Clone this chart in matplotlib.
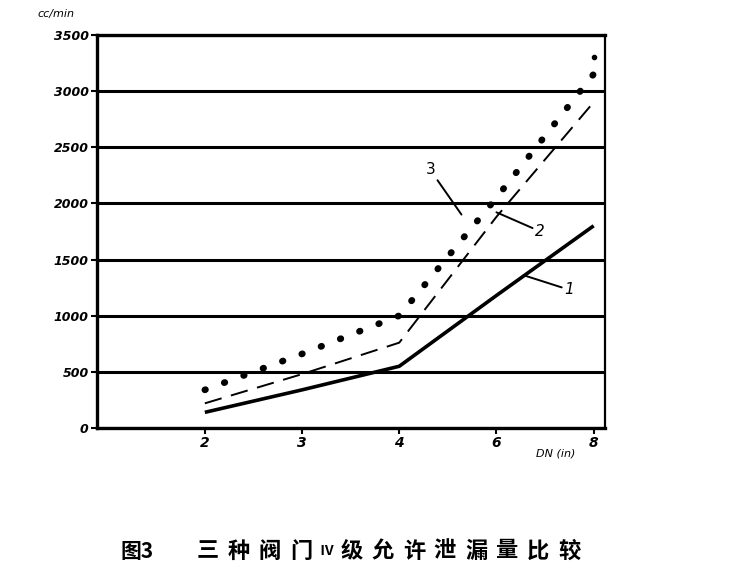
import matplotlib
matplotlib.use("Agg")
import matplotlib.pyplot as plt

plt.rcParams['font.family'] = ['DejaVu Sans']

dn_labels = ["2", "3", "4", "6", "8"]
line1 = [140, 340, 550, 1180, 1800]
line2 = [220, 480, 760, 1880, 2900]
line3 = [340, 660, 1000, 2050, 3150]
y_ticks = [0, 500, 1000, 1500, 2000, 2500, 3000, 3500]
caption_head = "图3"
caption_body = "三种阀门Ⅳ级允许泄漏量比较"

W, H = 740, 570
fig = plt.figure(figsize=(7.4, 5.7), dpi=100)
ax = fig.add_axes([0.131, 0.249, 0.687, 0.690])

x = list(range(len(dn_labels)))
ax.plot(x, line1, color="black", lw=2.6, solid_capstyle="butt")
ax.plot(x, line2, color="black", lw=1.4, dashes=(9, 5))
# dotted series drawn as heavy round dots
ax.plot(x, line3, color="black", lw=4.8, linestyle=(0, (0.1, 3.0)), dash_capstyle="round")
ax.plot([x[-1]], [3300], marker="o", color="black", markersize=3, lw=0)

ax.set_xlim(-1.11, 4.12)
ax.set_ylim(0, 3500)
ax.set_xticks(x)
ax.set_xticklabels(dn_labels, fontstyle="italic", fontsize=10, fontweight="bold")
ax.set_yticks(y_ticks)
ax.set_yticklabels([str(v) for v in y_ticks], fontstyle="italic", fontsize=9,
                   fontweight="bold")
ax.yaxis.grid(True, color="black", lw=2.2)
ax.set_axisbelow(False)
for s in ax.spines.values():
    s.set_linewidth(2.4)
ax.spines["right"].set_linewidth(1.6)
ax.tick_params(axis="both", length=4, width=1.5, pad=2)

# curve labels with leader lines
ax.annotate("3", xy=(2.64, 1900), xytext=(2.32, 2230), fontsize=11,
            ha="center", va="bottom",
            arrowprops=dict(arrowstyle="-", color="black", lw=1.4, shrinkA=0, shrinkB=0))
ax.annotate("2", xy=(3.0, 1920), xytext=(3.4, 1750), fontsize=11, fontstyle="italic",
            ha="left", va="center",
            arrowprops=dict(arrowstyle="-", color="black", lw=1.4, shrinkA=0, shrinkB=0))
ax.annotate("1", xy=(3.28, 1360), xytext=(3.7, 1230), fontsize=11, fontstyle="italic",
            ha="left", va="center",
            arrowprops=dict(arrowstyle="-", color="black", lw=1.4, shrinkA=0, shrinkB=0))

fig.text(0.05, 0.975, "cc/min", fontsize=8, fontstyle="italic", ha="left", va="center")
fig.text(0.725, 0.205, "DN (in)", fontsize=8, fontstyle="italic", ha="left", va="center")

# caption, spread out like the printed original
cjk = ["Noto Sans CJK SC", "DejaVu Sans"]
cy = 1 - 551 / H
fig.text(120 / W, cy, caption_head, fontsize=15, fontweight="bold",
         ha="left", va="center", family=cjk)
xpos = 208
for ch in caption_body:
    if ch == "Ⅳ":
        fig.text((xpos - 6) / W, cy, ch, fontsize=10, fontweight="bold",
                 ha="center", va="center", family=cjk)
        xpos += 20
    else:
        fig.text(xpos / W, cy, ch, fontsize=16, fontweight="bold",
                 ha="center", va="center", family=cjk)
        xpos += 31

fig.savefig("out.png", dpi=100, facecolor="white")
